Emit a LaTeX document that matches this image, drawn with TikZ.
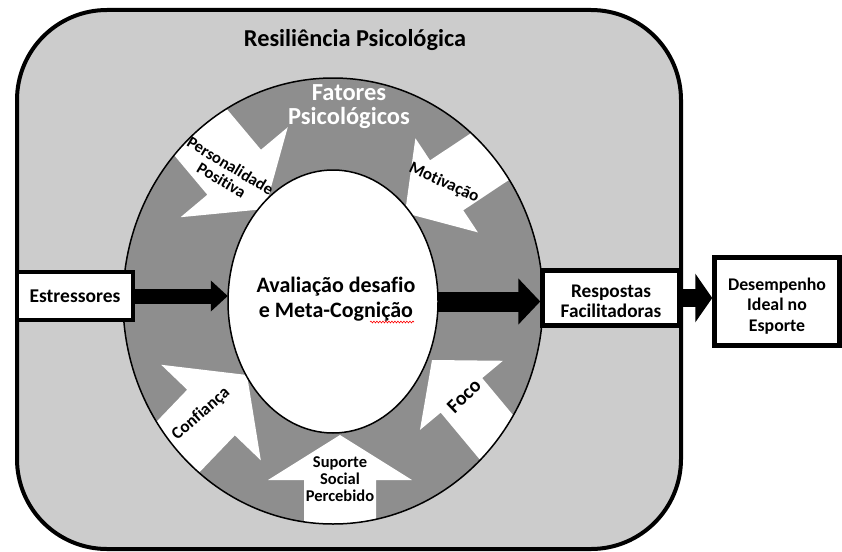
\documentclass[tikz,border=0pt]{standalone}
\usepackage{fontspec}
\setmainfont{Carlito}[Ligatures={NoCommon}]
\usetikzlibrary{arrows.meta,decorations.pathmorphing,shapes.geometric,calc}
\definecolor{framegray}{RGB}{204,204,204}
\definecolor{ringgray}{RGB}{142,142,142}
\newcommand\fsz[2]{\fontsize{#1}{#2}\selectfont\bfseries}
% white block arrow given by tip (x,y), image angle, shaft width, head width, head length
\newcommand\blkarrow[6]{%
  \fill[white, shift={(#1,#2)}, rotate=-#3] (0,0) -- (-#6,#5/2) -- (-#6,#4/2) -- (-170,#4/2)
     -- (-170,-#4/2) -- (-#6,-#4/2) -- (-#6,-#5/2) -- cycle;}
\begin{document}
\begin{tikzpicture}[x=1pt,y=-1pt,
  box/.style={draw=black, fill=white, line width=4.5pt, inner sep=0pt, align=center},
  lbl/.style={align=center, inner sep=0pt, font=\fsz{16.5}{17}}]
\useasboundingbox (0,0) rectangle (842,551);
\fill[white] (0,0) rectangle (842,551);
% outer frame
\draw[line width=4pt, fill=framegray, rounded corners=90pt] (17,10) rectangle (681,549);
\node[font=\fsz{24.3}{26}] (title) at (355,40) {Resiliência Psicológica};
% ring
\coordinate (rc) at (333,301);
\fill[ringgray] (rc) ellipse [x radius=210, y radius=223];
\node[ellipse, minimum width=210pt, minimum height=263pt, inner sep=0pt, fill=white] (eval) at (333,301.5) {};
\begin{scope}
  \clip (rc) ellipse [x radius=210, y radius=223];
  \blkarrow{265}{209}{50}{70}{140}{48}
  \blkarrow{405}{213}{146.4}{60}{113}{50}
  \blkarrow{247}{375}{-46.2}{66}{138}{52}
  \blkarrow{432}{360}{-129.8}{54}{108}{46}
  \blkarrow{340}{435}{-90}{72}{144}{45}
\end{scope}
\draw[line width=1.5pt] (eval.center) ellipse [x radius=105, y radius=131.5];
\draw[line width=1.5pt] (rc) ellipse [x radius=210, y radius=223];
\node[align=center, text=white, font=\fsz{24.5}{24}] (fat) at (349,107) {Fatores\\Psicológicos};
\node[align=center, font=\fsz{22}{25}] (evaltext) at (336,299) {Avaliação desafio\\e Meta-Cognição};
\draw[red, line width=0.6pt, decorate, decoration={snake, amplitude=0.9pt, segment length=3pt}] (370,322) -- (414,322);
% labels
\node[lbl, rotate=-31] (lp) at (226,173) {Personalidade\\Positiva};
\node[lbl, rotate=-24.5, font=\fsz{17}{17}] (lm) at (444,183) {Motivação};
\node[lbl, rotate=41, font=\fsz{17.2}{17}] (lc) at (201,414) {Confiança};
\node[lbl, rotate=44, font=\fsz{20}{20}] (lf) at (464,396) {Foco};
\node[lbl] (ls) at (340,479) {Suporte\\Social\\Percebido};
% boxes
\node[box, font=\fsz{19.5}{20}, minimum width=116pt, minimum height=48pt] (estr) at (75,296) {Estressores};
\node[box, font=\fsz{19.3}{20}, minimum width=137pt, minimum height=55pt] (resp) at (611,298) {\rule{0pt}{20pt}Respostas\\Facilitadoras};
\node[box, font=\fsz{17.8}{20.5}, minimum width=125pt, minimum height=88pt] (des) at (777,301.5) {\rule{0pt}{21pt}Desempenho\\Ideal no\\Esporte};
% connectors
\draw[line width=15pt, -{Triangle[length=17pt,width=30pt]}] (estr.east) -- (estr.east -| eval.west);
\draw[line width=20pt, -{Triangle[length=22pt,width=45pt]}] (eval.east) -- (eval.east -| resp.west);
\draw[line width=18pt, -{Triangle[length=17pt,width=48pt]}] (resp.east) -- (resp.east -| des.west);
\end{tikzpicture}
\end{document}
